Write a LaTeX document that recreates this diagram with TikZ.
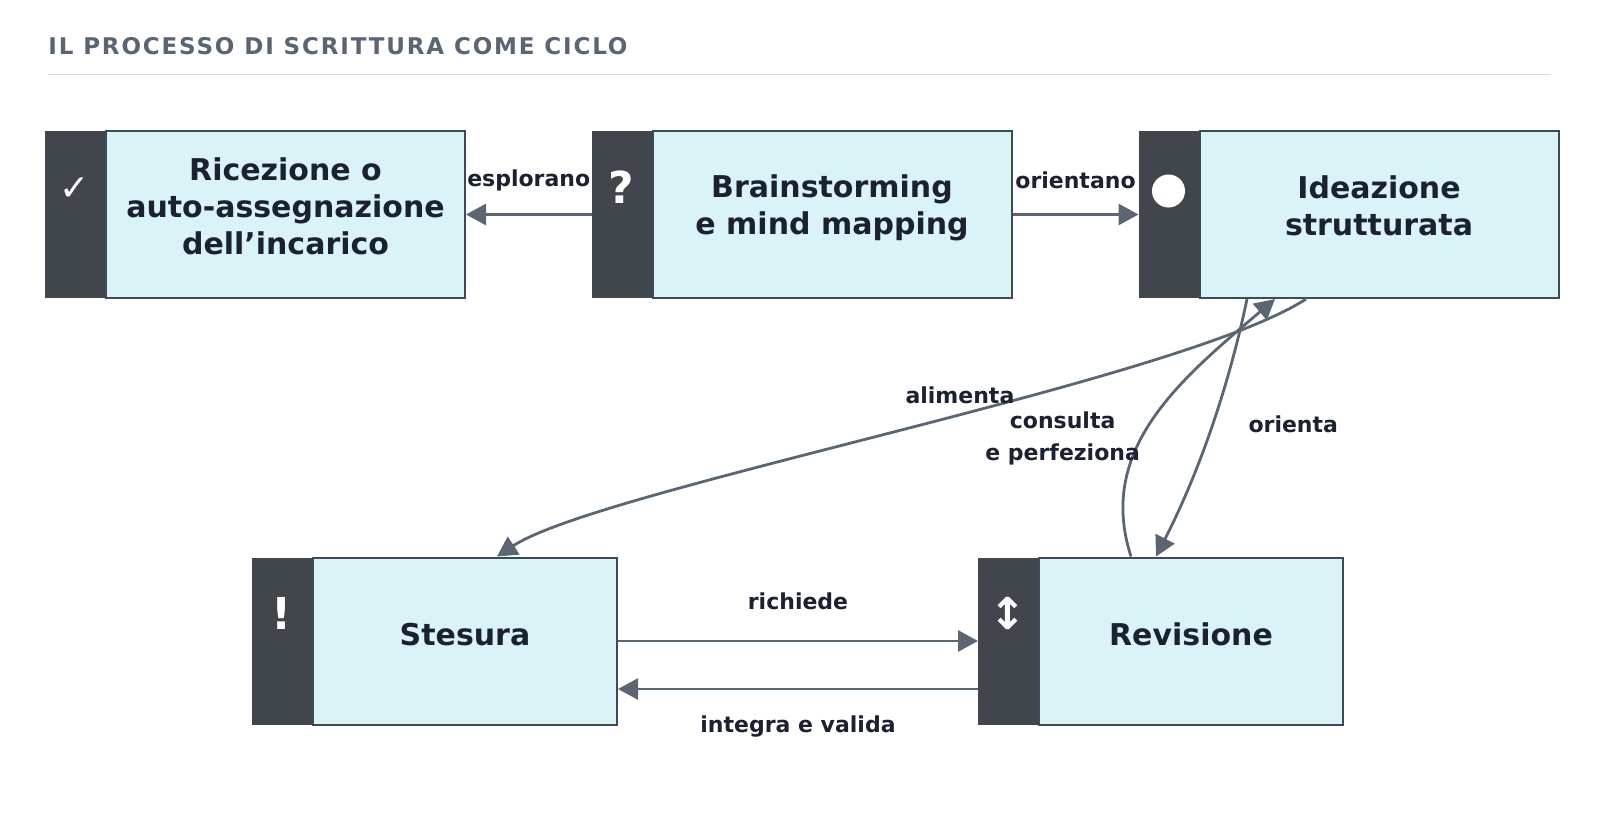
\documentclass[tikz,border=0pt]{standalone}
\usepackage{fontspec}
\setmainfont{DejaVu Sans}
\usetikzlibrary{positioning}
\usetikzlibrary{arrows.meta}

\definecolor{cardfill}{HTML}{D9F3F6}
\definecolor{cardline}{HTML}{3D4A5A}
\definecolor{barfill}{HTML}{41464D}
\definecolor{linkcol}{HTML}{5B6672}
\definecolor{inkcol}{HTML}{1B2130}
\definecolor{titlecol}{HTML}{5A6573}
\definecolor{rulecol}{HTML}{D5DBE3}

\begin{document}
\begin{tikzpicture}[x=1pt,y=-1pt,
        card/.style={draw=cardline,line width=1pt,fill=cardfill,minimum height=83.5pt,inner sep=0pt},
        wide/.style={card,minimum width=179.5pt},
        narrow/.style={card,minimum width=152pt},
        bar/.style={fill=barfill,minimum width=30pt,minimum height=83.5pt,inner sep=0pt,outer sep=0pt},
        cardtext/.style={text=inkcol,font=\fontsize{15}{18.6}\selectfont\bfseries,align=center},
        icon/.style={text=white,inner sep=0pt},
        link/.style={draw=linkcol,line width=1.4pt,-{Triangle[length=10pt,width=10.5pt]}},
        tag/.style={text=inkcol,font=\fontsize{11}{15.8}\selectfont\bfseries,align=center}]
        \fill[white] (0,0) rectangle (800,415.5);
        \useasboundingbox (0,0) rectangle (800,415.5);

        % titolo
        \node[anchor=base west,inner sep=0pt,text=titlecol,
            font=\fontsize{11.5}{13}\selectfont\bfseries\addfontfeature{LetterSpace=8}] (title) at (24,27)
            {IL PROCESSO DI SCRITTURA COME CICLO};
        \draw[rulecol,line width=0.7pt] (24,37.3) -- (775.5,37.3);

        % fasi
        \node[wide] (rice) at (142.75,107.25) {};
        \node[wide] (brain) at (416,107.25) {};
        \node[wide] (idea) at (689.5,107.25) {};
        \node[narrow] (stes) at (232.5,320.5) {};
        \node[narrow] (rev) at (595.5,320.5) {};

        \node[bar,left=0pt of rice] (ricebar) {};
        \node[bar,left=0pt of brain] (brainbar) {};
        \node[bar,left=0pt of idea] (ideabar) {};
        \node[bar,left=0pt of stes] (stesbar) {};
        \node[bar,left=0pt of rev] (revbar) {};

        \node[cardtext] at ([yshift=4pt]rice.center) {Ricezione o\\auto-assegnazione\\dell’incarico};
        \node[cardtext] at ([yshift=3.5pt]brain.center) {Brainstorming\\e mind mapping};
        \node[cardtext] at ([yshift=4.5pt]idea.center) {Ideazione\\strutturata};
        \node[cardtext] at ([yshift=3pt]stes.center) {Stesura};
        \node[cardtext] at ([yshift=3.5pt]rev.center) {Revisione};

        \node[icon,font=\fontsize{18}{18}\selectfont] at ([yshift=12.75pt]ricebar.center) {✓};
        \node[icon,font=\fontsize{22}{22}\selectfont\bfseries] at ([yshift=13.75pt]brainbar.center) {?};
        \node[circle,fill=white,minimum size=16.5pt,inner sep=0pt] at ([yshift=11.75pt]ideabar.center) {};
        \node[icon,font=\fontsize{22}{22}\selectfont\bfseries] at ([yshift=14pt]stesbar.center) {!};
        \node[icon,font=\fontsize{22}{22}\selectfont\bfseries] at ([yshift=14pt]revbar.center) {↕};

        % collegamenti
        \draw[link] (brainbar.west) -- node[tag,yshift=17pt] {esplorano} (rice.east);
        \draw[link] (brain.east) -- node[tag,yshift=17pt] {orientano} (ideabar.west);
        \draw[link] (stes.east) -- node[tag,yshift=20pt] {richiede} (revbar.west);
        \draw[link] ([yshift=-24pt]revbar.west) -- node[tag,yshift=-19pt] {integra e valida} ([yshift=-24pt]stes.east);

        \draw[link] ([xshift=-36.5pt]idea.south) .. controls +(-63,41) and +(51.5,-34) ..
            node[tag,pos=.45,xshift=7.5pt,yshift=12pt] {alimenta} ([xshift=16pt]stes.north);
        \draw[link] ([xshift=-30pt]rev.north) .. controls +(-17.5,-54) and +(-47,40) ..
            node[tag,pos=.5,xshift=-46pt,yshift=-10.5pt] {consulta\\e perfeziona} ([xshift=-52pt]idea.south);
        \draw[link] ([xshift=-66pt]idea.south) .. controls +(-9,43) and +(22,-43) ..
            node[tag,pos=.5,xshift=41pt,yshift=1.5pt] {orienta} ([xshift=-17.5pt]rev.north);
\end{tikzpicture}
\end{document}
